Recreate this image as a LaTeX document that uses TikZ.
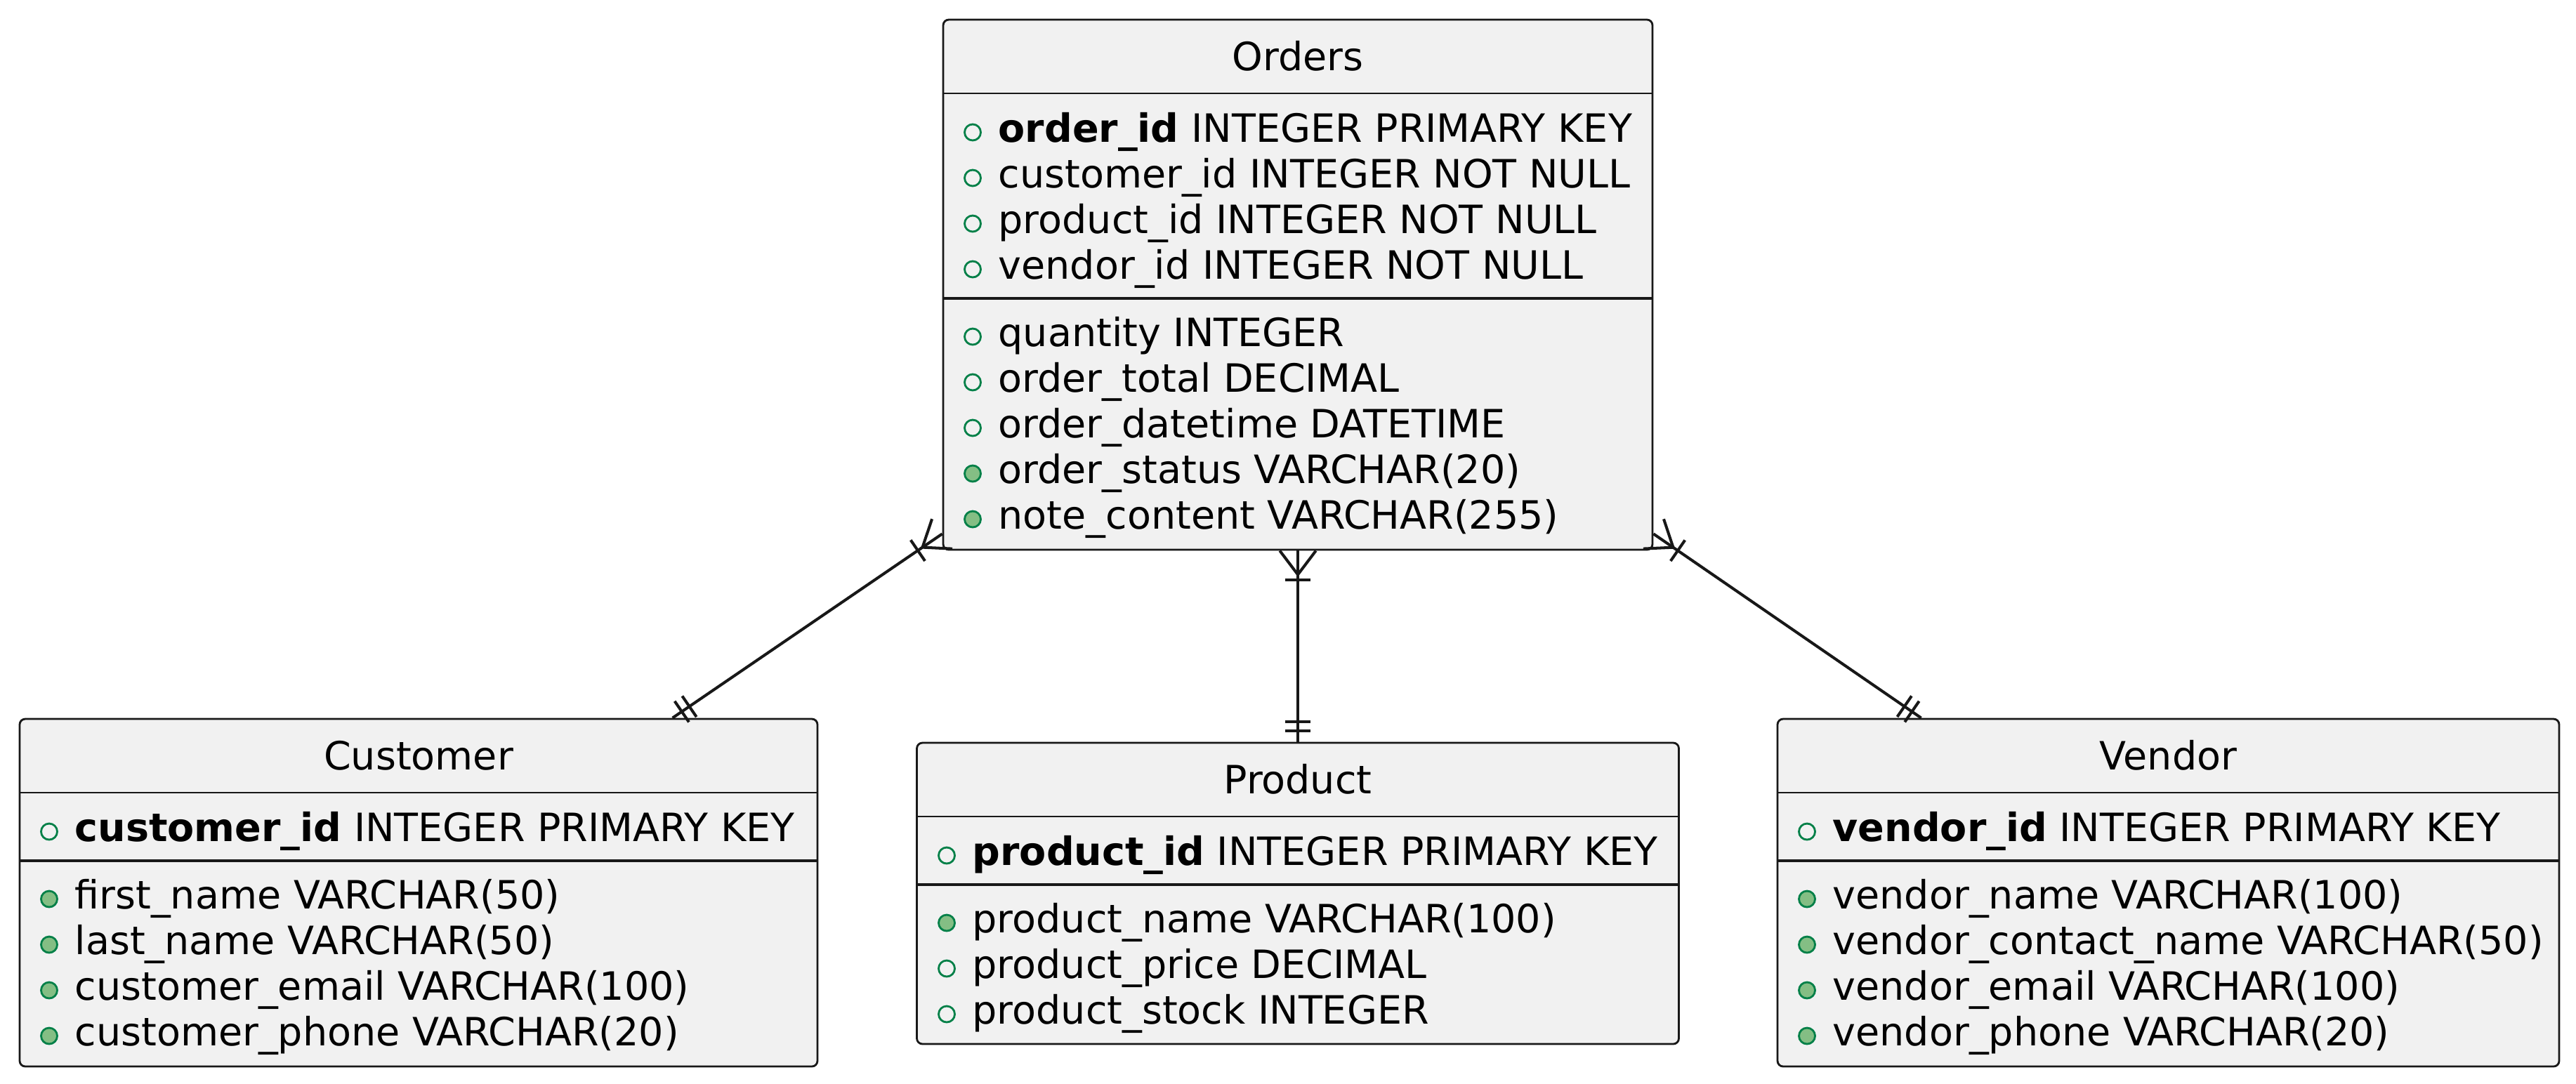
\documentclass[tikz,border=0pt]{standalone}
\usepackage{fontspec}
\setmainfont{DejaVu Sans}
\usetikzlibrary{calc,decorations.markings}

\definecolor{ink}{HTML}{181818}
\definecolor{boxfill}{HTML}{F1F1F1}
\definecolor{keygreen}{HTML}{038048}
\definecolor{dotfill}{HTML}{84BE84}

\tikzset{
	entity/.style={draw=ink, line width=0.8pt, fill=boxfill, rounded corners=0.08cm, inner sep=0pt},
	title/.style={anchor=base, inner sep=0pt, font=\fontsize{15.8}{19}\selectfont},
	field/.style={anchor=base west, inner sep=0pt, font=\fontsize{15.8}{19}\selectfont},
	thinsep/.style={draw=ink, line width=0.6pt},
	thicksep/.style={draw=ink, line width=1.4pt},
	opt/.style={draw=keygreen, line width=0.8pt, fill=boxfill},
	req/.style={draw=keygreen, line width=0.8pt, fill=dotfill},
	onemany/.style={draw=ink, line width=1.15pt, decoration={markings,
		mark=at position 0.34cm with {\draw[ink, line width=1.15pt] (0,0) -- (-0.34,0.257) (0,0) -- (-0.34,-0.257);},
		mark=at position 0.42cm with {\draw[ink, line width=1.15pt] (0,-0.18) -- (0,0.18);},
		mark=at position -0.29cm with {\draw[ink, line width=1.15pt] (0,-0.18) -- (0,0.18);},
		mark=at position -0.16cm with {\draw[ink, line width=1.15pt] (0,-0.18) -- (0,0.18);}},
		postaction=decorate}
}

\begin{document}
\begin{tikzpicture}
	\useasboundingbox (0,0) rectangle (36.68,-15.43);

	% Orders
	\node[entity, minimum width=10.10cm, minimum height=7.55cm] (orders) at (18.48,-4.055) {};
	\node[title] (ordersT) at (18.48,-1.00) {Orders};
	\draw[thinsep] (13.43,-1.33) -- (23.53,-1.33);
	\draw[opt] (13.85,-1.885) circle (0.115); \node[field] (o1) at (14.21,-2.02) {\textbf{order\_id} INTEGER PRIMARY KEY};
	\draw[opt] (13.85,-2.535) circle (0.115); \node[field] (o2) at (14.21,-2.67) {customer\_id INTEGER NOT NULL};
	\draw[opt] (13.85,-3.185) circle (0.115); \node[field] (o3) at (14.21,-3.32) {product\_id INTEGER NOT NULL};
	\draw[opt] (13.85,-3.835) circle (0.115); \node[field] (o4) at (14.21,-3.97) {vendor\_id INTEGER NOT NULL};
	\draw[thicksep] (13.43,-4.25) -- (23.53,-4.25);
	\draw[opt] (13.85,-4.795) circle (0.115); \node[field] (o5) at (14.21,-4.93) {quantity INTEGER};
	\draw[opt] (13.85,-5.445) circle (0.115); \node[field] (o6) at (14.21,-5.58) {order\_total DECIMAL};
	\draw[opt] (13.85,-6.095) circle (0.115); \node[field] (o7) at (14.21,-6.23) {order\_datetime DATETIME};
	\draw[req] (13.85,-6.745) circle (0.115); \node[field] (o8) at (14.21,-6.88) {order\_status VARCHAR(20)};
	\draw[req] (13.85,-7.395) circle (0.115); \node[field] (o9) at (14.21,-7.53) {note\_content VARCHAR(255)};

	% Customer
	\node[entity, minimum width=11.36cm, minimum height=4.95cm] (customer) at (5.96,-12.715) {};
	\node[title] (customerT) at (5.96,-10.96) {Customer};
	\draw[thinsep] (0.28,-11.29) -- (11.64,-11.29);
	\draw[opt] (0.70,-11.845) circle (0.115); \node[field] (c1) at (1.06,-11.98) {\textbf{customer\_id} INTEGER PRIMARY KEY};
	\draw[thicksep] (0.28,-12.26) -- (11.64,-12.26);
	\draw[req] (0.70,-12.805) circle (0.115); \node[field] (c2) at (1.06,-12.94) {first\_name VARCHAR(50)};
	\draw[req] (0.70,-13.455) circle (0.115); \node[field] (c3) at (1.06,-13.59) {last\_name VARCHAR(50)};
	\draw[req] (0.70,-14.105) circle (0.115); \node[field] (c4) at (1.06,-14.24) {customer\_email VARCHAR(100)};
	\draw[req] (0.70,-14.755) circle (0.115); \node[field] (c5) at (1.06,-14.89) {customer\_phone VARCHAR(20)};

	% Product
	\node[entity, minimum width=10.85cm, minimum height=4.29cm] (product) at (18.48,-12.725) {};
	\node[title] (productT) at (18.48,-11.30) {Product};
	\draw[thinsep] (13.055,-11.63) -- (23.905,-11.63);
	\draw[opt] (13.48,-12.185) circle (0.115); \node[field] (p1) at (13.84,-12.32) {\textbf{product\_id} INTEGER PRIMARY KEY};
	\draw[thicksep] (13.055,-12.60) -- (23.905,-12.60);
	\draw[req] (13.48,-13.145) circle (0.115); \node[field] (p2) at (13.84,-13.28) {product\_name VARCHAR(100)};
	\draw[opt] (13.48,-13.795) circle (0.115); \node[field] (p3) at (13.84,-13.93) {product\_price DECIMAL};
	\draw[opt] (13.48,-14.445) circle (0.115); \node[field] (p4) at (13.84,-14.58) {product\_stock INTEGER};

	% Vendor
	\node[entity, minimum width=11.13cm, minimum height=4.95cm] (vendor) at (30.875,-12.715) {};
	\node[title] (vendorT) at (30.875,-10.96) {Vendor};
	\draw[thinsep] (25.31,-11.29) -- (36.44,-11.29);
	\draw[opt] (25.73,-11.845) circle (0.115); \node[field] (v1) at (26.09,-11.98) {\textbf{vendor\_id} INTEGER PRIMARY KEY};
	\draw[thicksep] (25.31,-12.26) -- (36.44,-12.26);
	\draw[req] (25.73,-12.805) circle (0.115); \node[field] (v2) at (26.09,-12.94) {vendor\_name VARCHAR(100)};
	\draw[req] (25.73,-13.455) circle (0.115); \node[field] (v3) at (26.09,-13.59) {vendor\_contact\_name VARCHAR(50)};
	\draw[req] (25.73,-14.105) circle (0.115); \node[field] (v4) at (26.09,-14.24) {vendor\_email VARCHAR(100)};
	\draw[req] (25.73,-14.755) circle (0.115); \node[field] (v5) at (26.09,-14.89) {vendor\_phone VARCHAR(20)};

	% relations
	\draw[onemany] ($(orders.south west)+(0,0.24)$) -- ($(customer.north west)+(9.31,0)$);
	\draw[onemany] (orders.south) -- (product.north);
	\draw[onemany] ($(orders.south east)+(0,0.24)$) -- ($(vendor.north west)+(2.06,0)$);
\end{tikzpicture}
\end{document}
